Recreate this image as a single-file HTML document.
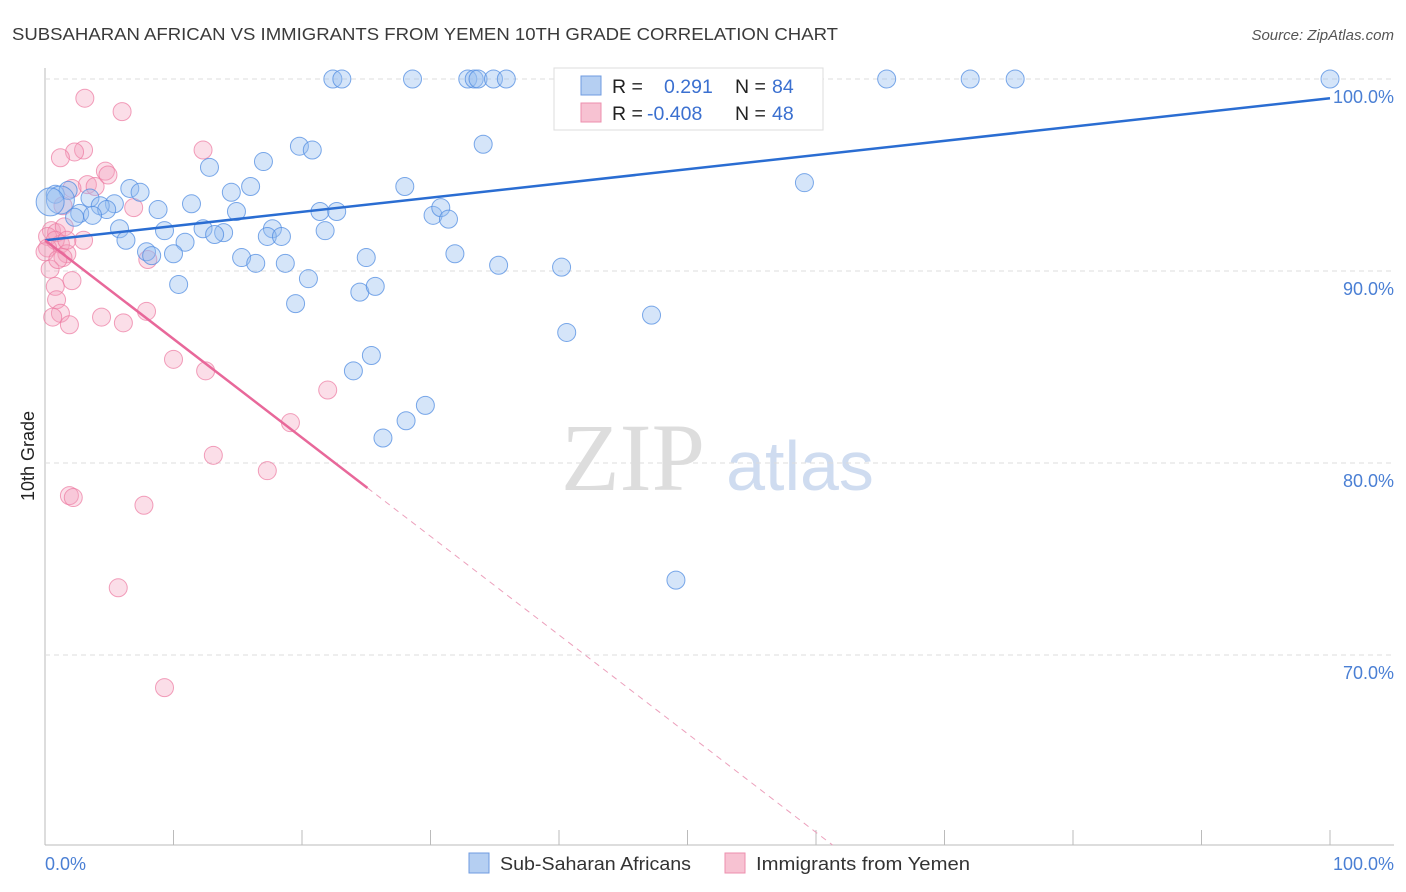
<!DOCTYPE html>
<html><head><meta charset="utf-8"><style>
body{margin:0;background:#fff;font-family:"Liberation Sans",sans-serif;}
#c{position:relative;width:1406px;height:892px;overflow:hidden}
</style></head><body><div id="c">
<svg id="s" width="1406" height="892" xmlns="http://www.w3.org/2000/svg">
<text x="12" y="40" font-size="17.5" fill="#3a3a3a" textLength="826" lengthAdjust="spacingAndGlyphs">SUBSAHARAN AFRICAN VS IMMIGRANTS FROM YEMEN 10TH GRADE CORRELATION CHART</text>
<text x="1394" y="40" font-size="15" fill="#555" font-style="italic" text-anchor="end">Source: ZipAtlas.com</text>
<text x="34" y="456" font-size="18" fill="#222" text-anchor="middle" transform="rotate(-90 34 456)">10th Grade</text>
<g><text x="633" y="490" font-size="96" fill="#ddd" font-family="Liberation Serif,serif" text-anchor="middle">ZIP</text><text x="800" y="490" font-size="70" fill="#cfdcf0" text-anchor="middle">atlas</text></g>
<g id="grid"></g><g id="marks"></g><g id="lines"></g>
<g>
<rect x="554" y="68" width="269" height="62" fill="#fff" stroke="#ddd"/>
<rect x="581" y="76" width="20" height="19" fill="#b5cff2" stroke="#6f9be0"/>
<rect x="581" y="103" width="20" height="19" fill="#f7c2d2" stroke="#ec8fae"/>
<text y="93" font-size="19.5"><tspan x="612" fill="#222">R = </tspan><tspan x="664" fill="#3b70d0">0.291</tspan><tspan x="735" fill="#222">N = </tspan><tspan x="772" fill="#3b70d0">84</tspan></text>
<text y="120" font-size="19.5"><tspan x="612" fill="#222">R = </tspan><tspan x="647" fill="#3b70d0">-0.408</tspan><tspan x="735" fill="#222">N = </tspan><tspan x="772" fill="#3b70d0">48</tspan></text>
</g>
<g>
<rect x="469" y="853" width="20" height="20" fill="#b5cff2" stroke="#6f9be0"/>
<text x="500" y="870" font-size="18.5" fill="#333" textLength="191" lengthAdjust="spacingAndGlyphs">Sub-Saharan Africans</text>
<rect x="725" y="853" width="20" height="20" fill="#f7c2d2" stroke="#ec8fae"/>
<text x="756" y="870" font-size="18.5" fill="#333" textLength="214" lengthAdjust="spacingAndGlyphs">Immigrants from Yemen</text>
</g>
</svg>
<script>
const yTicks=[100,90,80,70];
const xTickLabels=["0.0%","100.0%"];
const blueX=[22.4,23.1,28.6,32.9,33.4,33.7,34.9,35.9,65.5,72.0,75.5,100,41.5,43.2,34.1,19.8,20.8,17.0,12.8,0.8,1.8,3.5,6.6,7.4,16.0,14.5,28.0,59.1,5.4,4.3,4.8,2.7,2.3,8.8,11.4,14.9,21.4,22.7,30.2,30.8,31.4,5.8,9.3,12.3,13.9,13.2,17.7,17.3,18.4,21.8,6.3,10.9,7.9,8.3,10.0,15.3,16.4,18.7,25.0,31.9,35.3,40.2,20.5,10.4,24.5,25.7,19.5,47.2,40.6,25.4,24.0,29.6,28.1,26.3,49.1,1.2,0.4,3.7];
const blueY=[100,100,100,100,100,100,100,100,100,100,100,100,99.2,98.6,96.6,96.5,96.3,95.7,95.4,94.0,94.2,93.8,94.3,94.1,94.4,94.1,94.4,94.6,93.5,93.4,93.2,93.0,92.8,93.2,93.5,93.1,93.1,93.1,92.9,93.3,92.7,92.2,92.1,92.2,92.0,91.9,92.2,91.8,91.8,92.1,91.6,91.5,91.0,90.8,90.9,90.7,90.4,90.4,90.7,90.9,90.3,90.2,89.6,89.3,88.9,89.2,88.3,87.7,86.8,85.6,84.8,83.0,82.2,81.3,73.9,93.7,93.6,92.9];
const pinkX=[3.1,6.0,3.0,2.3,1.2,12.3,4.7,4.9,3.3,3.9,2.1,1.4,6.9,0.5,0.9,0.2,1.5,3.0,1.2,1.7,8.0,1.4,0.4,2.1,0.8,0.9,1.2,0.6,1.9,4.4,6.1,7.9,10.0,12.5,22.0,19.1,13.1,17.3,1.9,2.2,7.7,5.7,9.3,0.2,0.8,1.7,0,1.0];
const pinkY=[99.0,98.3,96.3,96.2,95.9,96.3,95.2,95.0,94.5,94.4,94.3,93.4,93.3,92.1,92.0,91.8,92.3,91.6,91.4,90.9,90.6,90.7,90.1,89.5,89.2,88.5,87.8,87.6,87.2,87.6,87.3,87.9,85.4,84.8,83.8,82.1,80.4,79.6,78.3,78.2,77.8,73.5,68.3,91.2,91.6,91.6,91.0,90.6];
const blueTrend=[91.6,99.0];
const pinkTrend=[91.6,78.7];const pinkSolidEnd=25.1;
const X=v=>45+v*12.85, Y=v=>79+(100-v)*19.2;
const NS="http://www.w3.org/2000/svg";
function mk(t,a,p){const e=document.createElementNS(NS,t);for(const k in a)e.setAttribute(k,a[k]);p.appendChild(e);return e;}
const grid=document.getElementById('grid'),marks=document.getElementById('marks'),lines=document.getElementById('lines');
let ax=mk('line',{x1:45,y1:68,x2:45,y2:845,stroke:'#bbb'},grid);


let bx=mk('line',{x1:45,y1:845,x2:1394,y2:845,stroke:'#bbb'},grid);


yTicks.forEach(t=>{
 const g=mk('line',{x1:45,y1:Y(t),x2:1394,y2:Y(t),stroke:'#ddd','stroke-dasharray':'5,4'},grid);
 
 
 const l=mk('text',{x:1394,y:Y(t)+24,'font-size':18,fill:'#4a7fd4','text-anchor':'end'},grid);l.textContent=t.toFixed(1)+'%';
 
 
});
for(let i=0;i<=10;i++){const t=mk('line',{x1:X(i*10),y1:830,x2:X(i*10),y2:845,stroke:'#bbb'},grid);
 
 }
[[0,45,'start'],[1,1394,'end']].forEach(([i,x,a])=>{const l=mk('text',{x:x,y:870,'font-size':18,fill:'#4a7fd4','text-anchor':a},grid);l.textContent=xTickLabels[i];
 
 });
pinkX.forEach((v,i)=>{const c=mk('circle',{cx:X(v),cy:Y(pinkY[i]),r:9,fill:'rgba(244,160,188,0.35)',stroke:'rgba(236,120,160,0.7)','stroke-width':1},marks);
 
 });
blueX.forEach((v,i)=>{const c=mk('circle',{cx:X(v),cy:Y(blueY[i]),r:(i>=75&&i<77)?14:9,fill:'rgba(150,190,240,0.4)',stroke:'rgba(80,140,225,0.75)','stroke-width':1},marks);
 
 });
let bl=mk('line',{x1:X(0),y1:Y(blueTrend[0]),x2:X(100),y2:Y(blueTrend[1]),stroke:'#2a6dd2','stroke-width':2.5},lines);


const slope=(pinkTrend[1]-pinkTrend[0])/pinkSolidEnd;
let pl=mk('line',{x1:X(0),y1:Y(pinkTrend[0]),x2:X(pinkSolidEnd),y2:Y(pinkTrend[1]),stroke:'#e8689a','stroke-width':2.5},lines);


const endX=(60.1-pinkTrend[0])/slope;
let pd=mk('line',{x1:X(pinkSolidEnd),y1:Y(pinkTrend[1]),x2:X(endX),y2:Y(60.1),stroke:'#eca0bc','stroke-width':1,'stroke-dasharray':'6,5'},lines);


</script></div></body></html>
